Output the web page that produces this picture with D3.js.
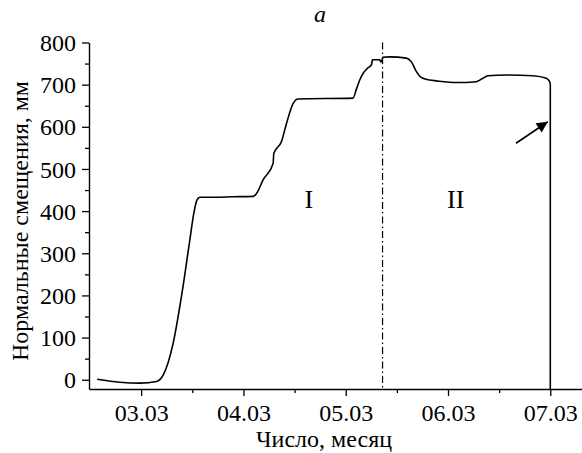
<!DOCTYPE html>
<html>
<head>
<meta charset="utf-8">
<script src="https://cdn.jsdelivr.net/npm/d3@7"></script>
<style>
  body { margin: 0; background: #fff; }
  svg { display: block; }
  svg text { font-family: "Liberation Serif", "Times New Roman", Times, "DejaVu Serif", serif; }
</style>
</head>
<body>
<svg width="582" height="453"></svg>
<script>
// day of March (fractional) and normal displacement, mm
var days = [2.57, 2.79, 2.99, 3.15, 3.215, 3.313, 3.404, 3.476, 3.515, 3.545, 3.574, 3.7, 3.9, 4.094,
  4.128, 4.192, 4.29, 4.297, 4.372, 4.421, 4.485, 4.534, 5.071, 5.105, 5.137, 5.171,
  5.213, 5.251, 5.256, 5.261, 5.332, 5.345, 5.355, 5.362, 5.43, 5.593, 5.642, 5.691, 5.725, 5.755,
  5.82, 5.886, 6.082, 6.277, 6.341, 6.39, 6.57, 6.83, 6.961, 6.993, 7.0];
var values = [1, -6, -8, -4, 11, 87, 213, 332, 395, 426, 433, 433, 434, 435,
  442, 474, 513, 537, 565, 608, 655, 666, 668, 690, 711, 727,
  739, 747, 752, 759, 759, 754, 758, 765, 766, 763, 754, 731, 720, 715,
  711, 709, 705, 707, 715, 721, 723, 721, 715, 707, 702];
// sharp drop at the end (collapse)
var dropDay = 7.0;
var dropValues = [702, -22];

var xTicks = [3, 4, 5, 6, 7];
var xTickLabels = ["03.03", "04.03", "05.03", "06.03", "07.03"];
var xMinorTicks = [3.5, 4.5, 5.5, 6.5];
var yTicks = [0, 100, 200, 300, 400, 500, 600, 700, 800];
var yMinorTicks = [50, 150, 250, 350, 450, 550, 650, 750];
var boundaryDay = 5.36;
var zoneLabels = ["I", "II"];
var zoneDays = [4.64, 6.075];
var zoneValue = 408;
var arrowFrom = [6.665, 561];
var arrowTo = [6.975, 612];

var svg = d3.select("svg");

var x = d3.scaleLinear().domain([2.49, 7.31]).range([89, 582]);
var y = d3.scaleLinear().domain([-22, 800]).range([389, 42.5]);

// minor ticks first, then the axes on top
svg.append("g")
  .attr("transform", "translate(0,389)")
  .call(d3.axisBottom(x).tickValues(xMinorTicks).tickSize(4).tickFormat(""))
  .call(function(g) { g.select(".domain").remove(); });

svg.append("g")
  .attr("transform", "translate(89,0)")
  .call(d3.axisLeft(y).tickValues(yMinorTicks).tickSize(4).tickFormat(""))
  .call(function(g) { g.select(".domain").remove(); });

svg.append("g")
  .attr("transform", "translate(0,389)")
  .call(d3.axisBottom(x).tickValues(xTicks).tickSize(7).tickSizeOuter(0)
    .tickFormat(function(d, i) { return xTickLabels[i]; }))
  .attr("font-family", null)
  .attr("font-size", null)
  .call(function(g) {
    g.selectAll("text").attr("dy", "0").attr("y", 32).style("font-size", "24px");
  });

svg.append("g")
  .attr("transform", "translate(89,0)")
  .call(d3.axisLeft(y).tickValues(yTicks).tickSize(7).tickSizeOuter(0))
  .attr("font-family", null)
  .attr("font-size", null)
  .call(function(g) {
    g.selectAll("text").attr("x", -13).attr("dy", "0.34em").style("font-size", "24px");
  });

svg.selectAll(".domain").attr("stroke", "#000").attr("stroke-width", 1.4);
svg.selectAll(".tick line").attr("stroke", "#000").attr("stroke-width", 1.3);
svg.selectAll(".tick text").attr("fill", "#000");

// boundary between zones I and II
svg.append("line")
  .attr("x1", x(boundaryDay)).attr("x2", x(boundaryDay))
  .attr("y1", y(800)).attr("y2", y(-22))
  .attr("stroke", "#000")
  .attr("stroke-width", 1.2)
  .attr("stroke-dasharray", "7,3,1.5,3");

var line = d3.line()
  .x(function(d) { return x(d[0]); })
  .y(function(d) { return y(d[1]); })
  .curve(d3.curveMonotoneX);

svg.append("path")
  .datum(days.map(function(d, i) { return [d, values[i]]; }))
  .attr("d", line)
  .attr("fill", "none")
  .attr("stroke", "#000")
  .attr("stroke-width", 1.6);

svg.append("path")
  .datum(dropValues.map(function(v) { return [dropDay, v]; }))
  .attr("d", d3.line().x(function(d) { return x(d[0]); }).y(function(d) { return y(d[1]); }))
  .attr("fill", "none")
  .attr("stroke", "#000")
  .attr("stroke-width", 1.6);

// arrow pointing at the collapse
svg.append("defs").append("marker")
  .attr("id", "head")
  .attr("viewBox", "0 0 10 10")
  .attr("refX", 10).attr("refY", 5)
  .attr("markerWidth", 16).attr("markerHeight", 11)
  .attr("markerUnits", "userSpaceOnUse")
  .attr("orient", "auto")
  .append("path")
  .attr("d", "M0,0L10,5L0,10Z")
  .attr("fill", "#000");

svg.append("line")
  .attr("x1", x(arrowFrom[0])).attr("y1", y(arrowFrom[1]))
  .attr("x2", x(arrowTo[0])).attr("y2", y(arrowTo[1]))
  .attr("stroke", "#000")
  .attr("stroke-width", 1.6)
  .attr("marker-end", "url(#head)");

svg.selectAll(".zone")
  .data(zoneLabels)
  .enter()
  .append("text")
  .attr("class", "zone")
  .attr("x", function(d, i) { return x(zoneDays[i]); })
  .attr("y", y(zoneValue))
  .attr("text-anchor", "middle")
  .style("font-size", "26px")
  .text(function(d) { return d; });

svg.append("text")
  .attr("x", 320).attr("y", 22)
  .attr("text-anchor", "middle")
  .style("font-size", "24px")
  .style("font-style", "italic")
  .text("a");

svg.append("text")
  .attr("x", 324).attr("y", 447)
  .attr("text-anchor", "middle")
  .style("font-size", "24px")
  .text("Число, месяц");

svg.append("text")
  .attr("transform", "translate(28,221) rotate(-90)")
  .attr("text-anchor", "middle")
  .style("font-size", "24px")
  .text("Нормальные смещения, мм");
</script>
</body>
</html>
